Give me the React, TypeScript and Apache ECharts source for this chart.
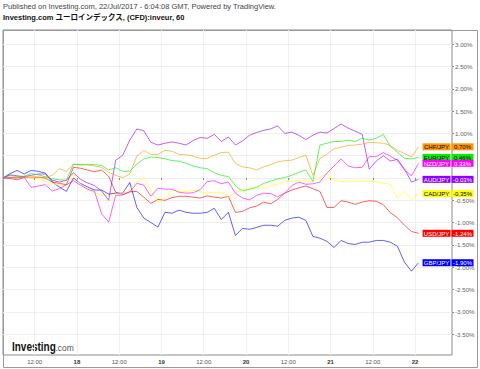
import React, { useEffect, useRef } from "react";
import * as echarts from "echarts";

// hourly grid (hours since 17 Jul 00:00), 2-hour steps
const hours: number[] = Array.from({ length: 60 }, (_, i) => 3 + 2 * i);

const xTickHours = [12, 24, 36, 48, 60, 72, 84, 96, 108, 120];
const xTickLabels = ["12:00", "18", "12:00", "19", "12:00", "20", "12:00", "21", "12:00", "22"];
const yTickValues = [-3.5, -3, -2.5, -2, -1.5, -1, -0.5, 0, 0.5, 1, 1.5, 2, 2.5, 3];
// 0.00% and 0.50% are hidden behind the end labels in the reference
const yLabelValues = [-3.5, -3, -2.5, -2, -1.5, -1, -0.5, 1, 1.5, 2, 2.5, 3];

const chfjpy = [0.00, 0.02, 0.01, 0.04, 0.00, 0.01, 0.02, 0.06, 0.21, 0.15,
  0.31, 0.30, 0.29, 0.27, 0.24, 0.13, 0.06, 0.01, 0.09, 0.49,
  0.62, 0.53, 0.53, 0.62, 0.60, 0.53, 0.52, 0.49, 0.44, 0.44,
  0.51, 0.57, 0.58, 0.33, 0.25, 0.23, 0.18, 0.25, 0.30, 0.36,
  0.39, 0.40, 0.46, 0.51, 0.06, 0.44, 0.53, 0.66, 0.69, 0.73,
  0.74, 0.76, 0.80, 0.79, 0.78, 0.73, 0.62, 0.55, 0.47, 0.70];

const eurjpy = [0.00, 0.06, 0.03, 0.04, 0.10, 0.07, 0.03, -0.02, -0.04, -0.05,
  0.31, 0.29, 0.31, 0.30, 0.28, 0.18, 0.23, 0.15, 0.15, 0.31,
  0.43, 0.47, 0.46, 0.43, 0.39, 0.38, 0.33, 0.27, 0.23, 0.21,
  0.12, 0.06, 0.03, -0.18, -0.29, -0.25, -0.21, -0.12, -0.07, -0.02,
  0.01, 0.06, 0.13, 0.18, -0.08, 0.74, 0.78, 0.82, 0.82, 0.85,
  0.82, 0.89, 0.85, 0.89, 0.98, 0.71, 0.58, 0.44, 0.43, 0.46];

const nzdjpy = [0.00, 0.01, 0.00, 0.02, -0.21, -0.18, -0.15, -0.29, -0.24, -0.15,
  -0.06, -0.16, -0.25, -0.30, -0.80, -0.99, -0.39, -0.38, -0.31, -0.12,
  -0.16, -0.41, -0.23, -0.25, -0.25, -0.32, -0.34, -0.33, -0.26, -0.08,
  -0.06, -0.13, -0.09, -0.34, -0.45, -0.49, -0.39, -0.34, -0.35, -0.42,
  -0.34, -0.17, -0.09, -0.14, -0.13, -0.09, 0.11, 0.27, 0.43, 0.27,
  0.23, 0.24, 0.48, 0.48, 0.57, 0.49, 0.40, 0.18, 0.05, 0.33];

const audjpy = [0.00, 0.07, 0.05, 0.03, 0.06, 0.09, 0.09, -0.05, -0.09, -0.05,
  0.12, -0.03, -0.11, -0.17, -0.29, -0.50, 0.40, 0.51, 0.85, 1.10,
  1.06, 0.80, 0.74, 0.78, 0.81, 0.78, 0.74, 0.84, 0.91, 0.89,
  0.98, 0.82, 0.92, 0.74, 0.83, 0.96, 1.02, 1.07, 1.10, 1.17,
  1.00, 1.03, 0.96, 0.86, 0.96, 1.03, 1.01, 1.11, 1.21, 1.12,
  1.05, 0.98, 0.20, 0.38, 0.50, 0.38, 0.42, 0.20, -0.09, -0.03];

const cadjpy = [0.00, 0.01, 0.00, 0.02, 0.01, -0.02, -0.07, -0.12, -0.16, -0.18,
  0.09, -0.14, -0.27, -0.33, -0.38, -0.41, -0.36, -0.34, -0.27, -0.07,
  0.00, -0.27, -0.54, -0.47, -0.27, -0.30, -0.30, -0.27, -0.31, -0.34,
  -0.32, -0.32, -0.43, -0.32, -0.27, -0.25, -0.21, -0.23, -0.17, -0.14,
  -0.09, -0.07, -0.05, -0.05, -0.09, 0.02, 0.09, -0.05, -0.08, -0.09,
  -0.07, -0.07, -0.07, -0.08, -0.12, -0.14, -0.45, -0.30, -0.48, -0.35];

const usdjpy = [0.00, -0.01, -0.04, 0.01, 0.02, 0.02, 0.00, -0.09, -0.12, -0.15,
  0.24, 0.22, 0.18, 0.14, 0.18, 0.04, -0.32, -0.37, -0.31, -0.30,
  -0.43, -0.57, -0.48, -0.50, -0.44, -0.41, -0.41, -0.43, -0.45, -0.40,
  -0.43, -0.45, -0.41, -0.77, -0.75, -0.67, -0.63, -0.54, -0.58, -0.48,
  -0.34, -0.27, -0.22, -0.18, -0.24, -0.30, -0.66, -0.66, -0.51, -0.54,
  -0.59, -0.54, -0.51, -0.52, -0.60, -0.78, -0.89, -1.06, -1.20, -1.24];

const gbpjpy = [0.00, 0.10, 0.17, 0.09, 0.17, 0.15, 0.11, -0.09, -0.20, -0.30,
  0.00, -0.12, -0.20, -0.27, -0.27, -0.36, -0.34, -0.34, -0.10, -0.66,
  -0.90, -1.00, -1.10, -0.77, -0.79, -0.72, -0.77, -0.79, -0.79, -0.77,
  -0.68, -0.93, -0.77, -1.29, -1.13, -1.15, -1.11, -1.06, -1.06, -1.08,
  -0.95, -0.90, -0.88, -0.95, -1.31, -1.35, -1.42, -1.56, -1.40, -1.47,
  -1.49, -1.44, -1.44, -1.40, -1.40, -1.44, -1.53, -1.89, -2.09, -1.90];

const seriesNames = ["USD/JPY", "GBP/JPY", "CAD/JPY", "AUD/JPY", "CHF/JPY", "EUR/JPY", "NZD/JPY"];
const seriesValues = [usdjpy, gbpjpy, cadjpy, audjpy, chfjpy, eurjpy, nzdjpy];
const seriesColors = ["#ff0000", "#0000ff", "#ffff00", "#9000ff", "#ff9800", "#00f000", "#ff00ff"];
const labelTextColors = ["#ffffff", "#ffffff", "#000000", "#ffffff", "#000000", "#000000", "#ffffff"];

const FONT = '"Liberation Sans", Arial, "Noto Sans CJK JP", sans-serif';

export default function App() {
  const ref = useRef<HTMLDivElement>(null);

  useEffect(() => {
    document.body.style.margin = "0";
    if (!ref.current) return;
    const chart = echarts.init(ref.current, undefined, { renderer: "svg" });

    const series = seriesNames.map((name, si) => {
      const vals = seriesValues[si];
      const last = vals[vals.length - 1];
      return {
        name,
        type: "line",
        data: hours.map((h, i) => [h, vals[i]]),
        showSymbol: false,
        symbol: "none",
        lineStyle: { width: 1, color: seriesColors[si], opacity: 0.62 },
        itemStyle: { color: seriesColors[si] },
        emphasis: { disabled: true },
        z: 2 + si,
        endLabel: {
          show: true,
          distance: 4,
          formatter: () => `{n|${name}}{s| }{v|${last.toFixed(2)}%}`,
          rich: {
            n: {
              backgroundColor: seriesColors[si],
              color: labelTextColors[si],
              fontSize: 6,
              fontFamily: FONT,
              lineHeight: 8,
              width: 26,
              align: "center",
              padding: [1, 1, 0, 1],
            },
            s: { width: 1, fontSize: 6 },
            v: {
              backgroundColor: seriesColors[si],
              color: labelTextColors[si],
              fontSize: 6,
              fontFamily: FONT,
              lineHeight: 8,
              width: 20,
              align: "center",
              padding: [1, 1, 0, 1],
            },
          },
        },
      };
    });

    const option: any = {
      animation: false,
      textStyle: { fontFamily: FONT },
      grid: {
        left: 3,
        top: 30,
        width: 449,
        height: 325,
        show: true,
        borderColor: "#8c8c8c",
        borderWidth: 1,
        containLabel: false,
      },
      xAxis: {
        type: "value",
        min: 3,
        max: 130.5,
        axisLine: { show: false },
        axisTick: {
          show: true,
          customValues: xTickHours,
          length: 2,
          lineStyle: { color: "#888" },
        },
        axisLabel: {
          customValues: xTickHours,
          fontSize: 6,
          color: "#555",
          margin: 4,
          formatter: (v: number) => {
            const idx = xTickHours.indexOf(Math.round(v));
            const t = idx >= 0 ? xTickLabels[idx] : "";
            return t.indexOf(":") >= 0 ? t : `{d|${t}}`;
          },
          rich: { d: { fontSize: 6, color: "#333", fontWeight: "bold" } },
        },
        splitLine: { show: true, lineStyle: { color: "#efefef", width: 1 } },
      },
      yAxis: {
        type: "value",
        position: "right",
        min: -3.97,
        max: 3.32,
        axisLine: { show: false },
        axisTick: {
          show: true,
          customValues: yTickValues,
          length: 2,
          lineStyle: { color: "#888" },
        },
        axisLabel: {
          customValues: yLabelValues,
          fontSize: 6.2,
          color: "#666",
          margin: 3,
          formatter: (v: number) => `${v.toFixed(2)}%`,
        },
        splitLine: { show: true, lineStyle: { color: "#efefef", width: 1 } },
      },
      graphic: [
        {
          type: "rect",
          z: 0,
          shape: { x: 3.5, y: 30.5, width: 474, height: 337 },
          style: { fill: "none", stroke: "#9a9a9a", lineWidth: 1 },
          silent: true,
        },
        {
          type: "text",
          x: 3,
          y: 6.5,
          style: {
            text: "Published on Investing.com, 22/Jul/2017 - 6:04:08 GMT, Powered by TradingView.",
            font: `7.5px ${FONT}`,
            fill: "#444",
            verticalAlign: "middle",
          },
          silent: true,
        },
        {
          type: "text",
          x: 3,
          y: 17.5,
          style: {
            text: "Investing.com ユーロインデックス, (CFD):inveur, 60",
            font: `bold 7.5px ${FONT}`,
            fill: "#111",
            verticalAlign: "middle",
          },
          silent: true,
        },
        {
          type: "text",
          x: 12,
          y: 346.8,
          scaleX: 0.8,
          style: {
            text: "Investing",
            font: `bold 12.5px ${FONT}`,
            fill: "#111",
            verticalAlign: "middle",
          },
          silent: true,
        },
        {
          type: "text",
          x: 55.5,
          y: 348,
          style: {
            text: ".com",
            font: `8.5px ${FONT}`,
            fill: "#555",
            verticalAlign: "middle",
          },
          silent: true,
        },
      ],
      series,
    };

    chart.setOption(option);
    return () => chart.dispose();
  }, []);

  return <div ref={ref} style={{ width: 480, height: 369 }} />;
}
